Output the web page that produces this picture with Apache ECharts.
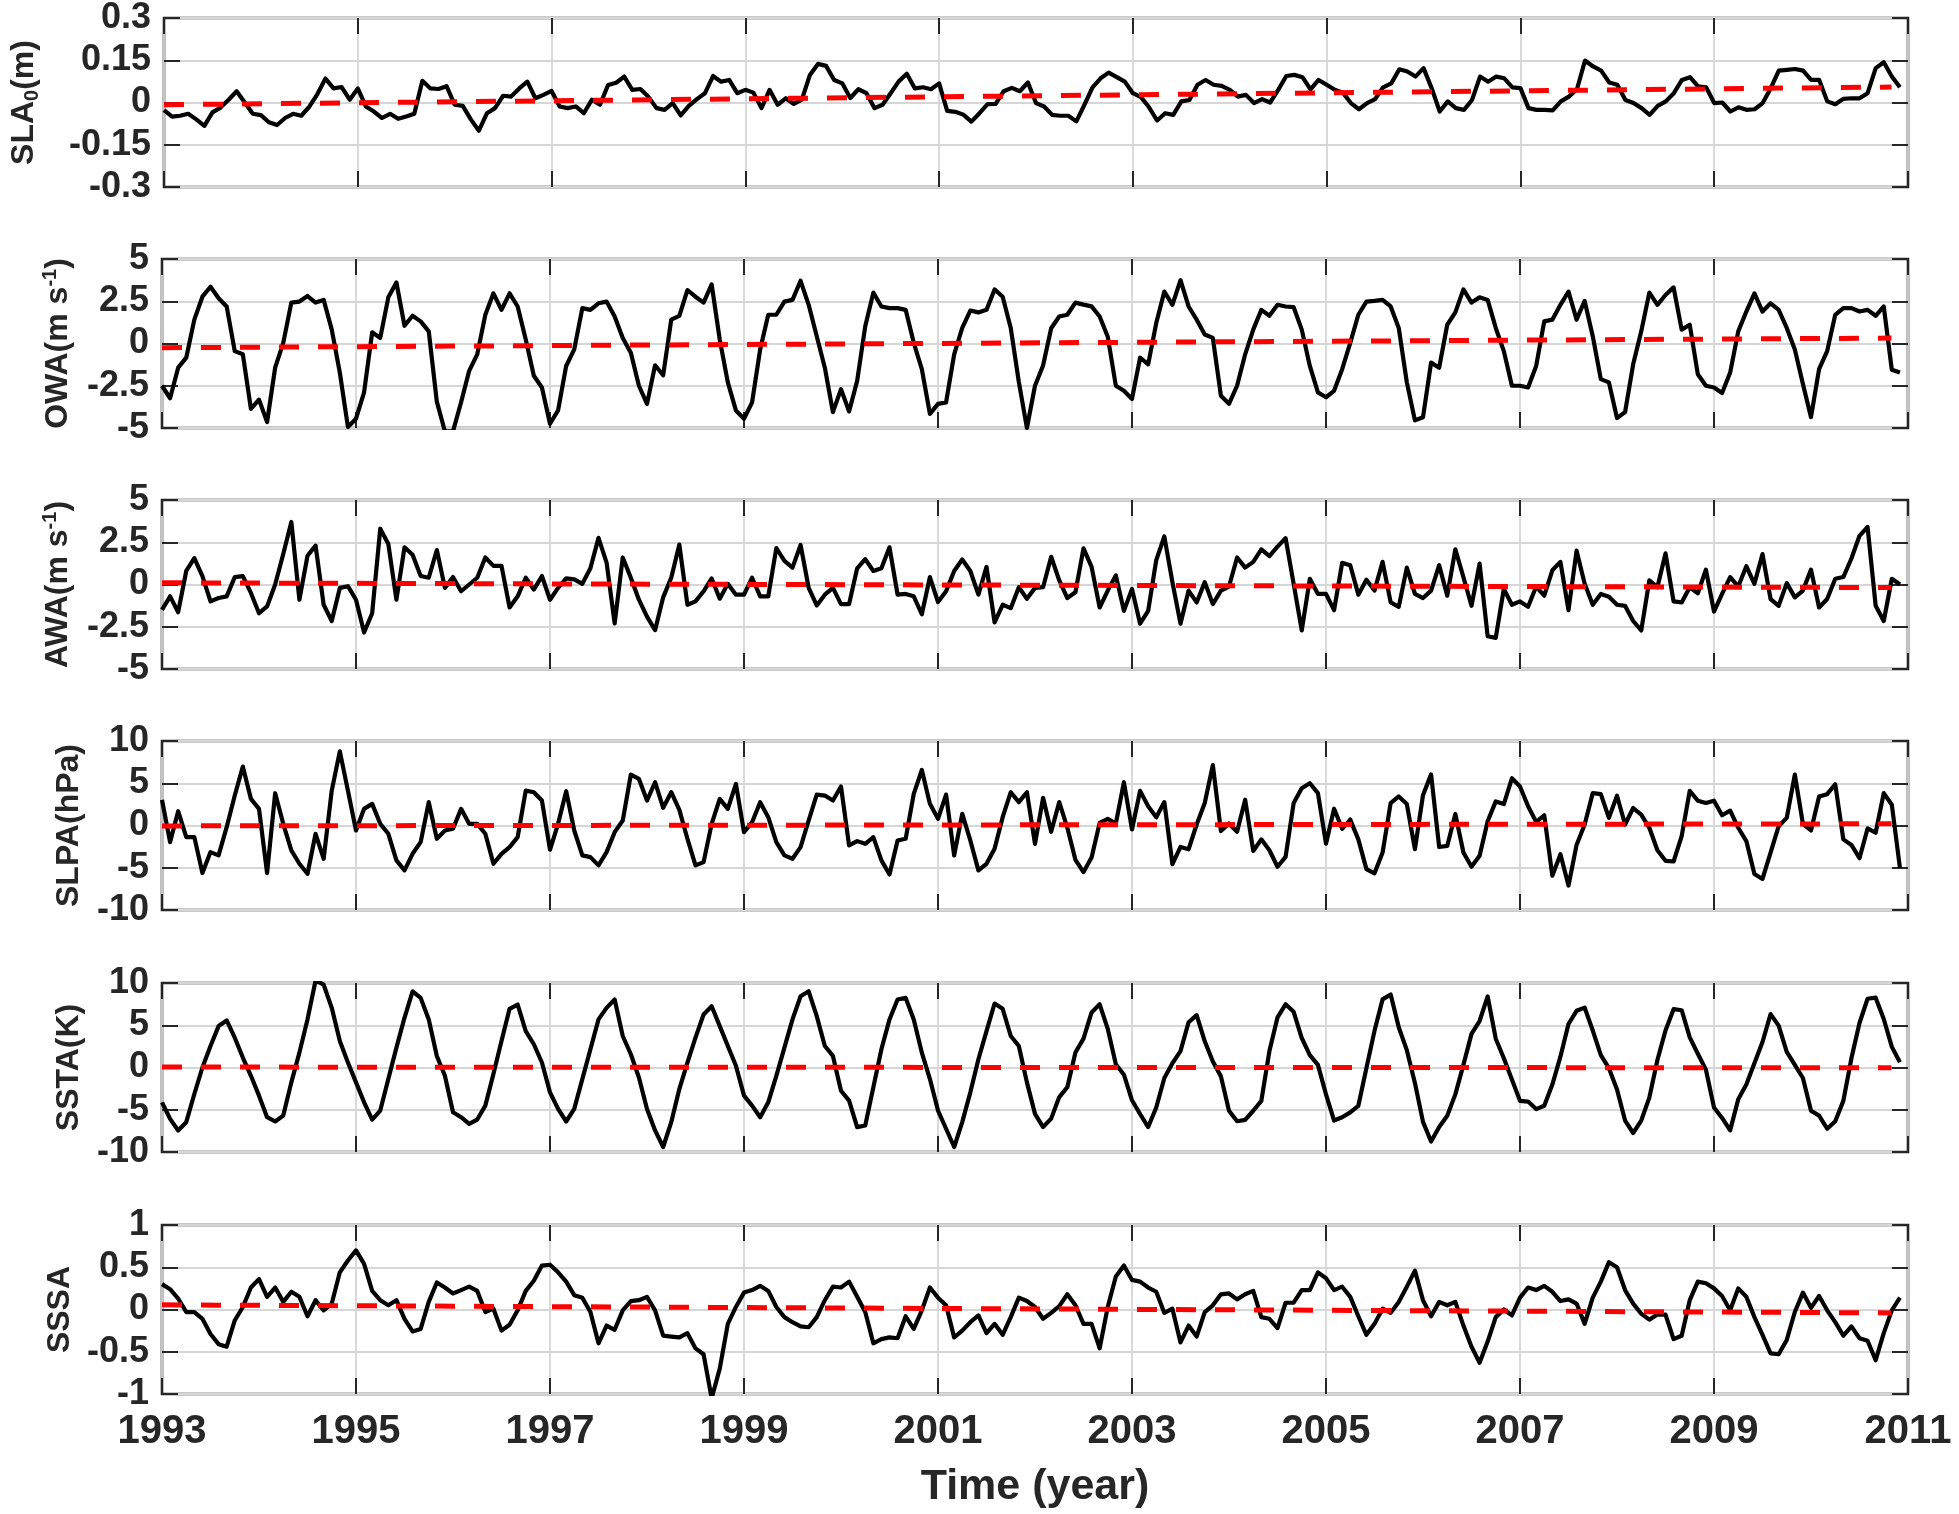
<!DOCTYPE html>
<html><head><meta charset="utf-8">
<script src="https://cdn.jsdelivr.net/npm/echarts@6/dist/echarts.min.js"></script>
<style>html,body{margin:0;padding:0;background:#fff}#chart{width:1959px;height:1514px}</style>
</head><body><div id="chart"></div>
<script>
// ---------------- DATA ----------------
const startYear = 1993;          // first month of the monthly series
const xTickLabels = ['1993','1995','1997','1999','2001','2003','2005','2007','2009','2011'];
const trendSpan = [1993, 2010.83]; // x extent of the dashed trend lines

const slaTicks  = ['-0.3','-0.15','0','0.15','0.3'];
const owaTicks  = ['-5','-2.5','0','2.5','5'];
const awaTicks  = ['-5','-2.5','0','2.5','5'];
const slpaTicks = ['-10','-5','0','5','10'];
const sstaTicks = ['-10','-5','0','5','10'];
const sssaTicks = ['-1','-0.5','0','0.5','1'];

const sla = [
-0.027,-0.05,-0.047,-0.04,-0.06,-0.083,-0.035,-0.018,0.01,0.04,0.0,-0.04,
-0.045,-0.07,-0.08,-0.055,-0.04,-0.047,-0.015,0.03,0.085,0.05,0.055,0.01,
0.05,-0.014,-0.032,-0.055,-0.04,-0.058,-0.05,-0.04,0.077,0.05,0.048,0.058,
-0.008,-0.012,-0.06,-0.10,-0.038,-0.02,0.024,0.021,0.05,0.074,0.015,0.027,
0.041,-0.014,-0.02,-0.014,-0.038,0.01,-0.008,0.062,0.07,0.092,0.045,0.048,
0.02,-0.02,-0.026,-0.002,-0.046,-0.012,0.012,0.033,0.094,0.074,0.08,0.033,
0.045,0.035,-0.02,0.045,-0.008,0.015,-0.005,0.01,0.098,0.137,0.13,0.08,
0.068,0.016,0.047,0.033,-0.02,-0.008,0.033,0.075,0.102,0.05,0.054,0.047,
0.068,-0.03,-0.033,-0.043,-0.068,-0.038,-0.006,-0.005,0.04,0.052,0.04,0.071,
-0.002,-0.014,-0.044,-0.047,-0.047,-0.067,-0.008,0.054,0.086,0.106,0.09,0.074,
0.033,0.019,-0.017,-0.064,-0.038,-0.044,0.004,0.009,0.063,0.08,0.063,0.059,
0.045,0.021,0.027,-0.002,0.012,0.0,0.045,0.094,0.098,0.09,0.047,0.08,
0.063,0.045,0.035,-0.002,-0.024,-0.002,0.012,0.054,0.068,0.118,0.11,0.092,
0.122,0.051,-0.032,0.004,-0.02,-0.026,0.009,0.092,0.074,0.092,0.086,0.054,
0.051,-0.02,-0.026,-0.026,-0.028,0.004,0.021,0.047,0.149,0.128,0.113,0.071,
0.063,0.009,-0.002,-0.02,-0.044,-0.012,0.004,0.033,0.08,0.09,0.057,0.054,
-0.002,0.0,-0.032,-0.017,-0.026,-0.024,-0.002,0.051,0.113,0.116,0.119,0.113,
0.08,0.08,0.004,-0.006,0.013,0.015,0.015,0.033,0.122,0.143,0.092,0.054];
const slaTrend = [-0.008, 0.055];

const owa = [
-2.5,-3.24,-1.43,-0.84,1.41,2.77,3.36,2.68,2.19,-0.45,-0.64,-3.87,
-3.32,-4.65,-1.43,0.04,2.42,2.48,2.81,2.42,2.58,0.82,-1.72,-4.94,
-4.45,-2.89,0.66,0.33,2.73,3.61,1.05,1.64,1.31,0.72,-3.44,-5.2,
-5.2,-3.48,-1.62,-0.64,1.7,2.97,1.99,2.97,2.19,0.23,-1.91,-2.6,
-4.75,-3.96,-1.33,-0.35,2.09,1.99,2.38,2.48,1.6,0.33,-0.55,-2.5,
-3.57,-1.29,-1.88,1.41,1.64,3.16,2.77,2.42,3.5,0.23,-2.3,-3.96,
-4.45,-3.48,-0.35,1.7,1.7,2.48,2.58,3.71,2.29,0.43,-1.43,-4.06,
-2.7,-4.02,-2.21,1.02,3.01,2.19,2.09,2.09,1.99,0.04,-1.52,-4.16,
-3.57,-3.48,-0.64,0.92,1.95,1.84,1.99,3.2,2.77,0.92,-2.27,-5.0,
-2.5,-1.3,0.9,1.6,1.7,2.42,2.3,2.2,1.6,0.4,-2.5,-2.8,
-3.28,-0.84,-1.23,1.21,3.07,2.29,3.75,2.19,1.41,0.53,0.33,-3.09,
-3.57,-2.5,-0.64,0.82,1.99,1.64,2.29,2.19,2.15,0.82,-1.33,-2.89,
-3.18,-2.8,-1.52,0.04,1.7,2.48,2.52,2.58,2.19,0.92,-2.3,-4.55,
-4.36,-1.13,-1.43,1.11,1.84,3.2,2.42,2.73,2.58,0.92,-0.45,-2.5,
-2.5,-2.6,-1.33,1.31,1.41,2.29,3.07,1.41,2.52,0.43,-2.11,-2.3,
-4.41,-4.06,-1.23,0.72,3.01,2.29,2.87,3.32,0.82,1.11,-1.82,-2.5,
-2.6,-2.93,-1.72,0.72,1.89,2.97,1.89,2.38,1.99,0.92,-0.35,-2.4,
-4.36,-1.52,-0.45,1.7,2.09,2.09,1.89,1.99,1.64,2.19,-1.56,-1.72];
const owaTrend = [-0.25, 0.32];

const awa = [
-1.5,-0.7,-1.64,0.8,1.56,0.5,-1.0,-0.8,-0.7,0.44,0.5,-0.5,
-1.7,-1.3,0.0,1.8,3.7,-0.9,1.7,2.3,-1.2,-2.16,-0.2,-0.1,
-0.9,-2.84,-1.7,3.3,2.4,-0.9,2.2,1.76,0.5,0.4,2.04,-0.2,
0.44,-0.4,0.0,0.4,1.6,1.1,1.1,-1.36,-0.7,0.4,-0.3,0.5,
-0.9,-0.2,0.36,0.3,0.04,0.96,2.76,1.3,-2.3,1.6,0.4,-0.9,
-1.9,-2.7,-0.76,0.4,2.36,-1.2,-1.0,-0.4,0.36,-0.84,0.04,-0.6,
-0.6,0.4,-0.7,-0.7,2.16,1.4,1.0,2.34,-0.2,-1.24,-0.6,-0.2,
-1.16,-1.16,0.96,1.5,0.8,0.96,2.2,-0.6,-0.56,-0.7,-1.76,0.44,
-1.04,-0.4,0.8,1.48,0.8,-0.6,1.04,-2.24,-1.2,-1.4,-0.16,-0.84,
-0.2,-0.16,1.64,0.24,-0.8,-0.46,2.14,1.04,-1.36,-0.36,0.54,-1.56,
-0.26,-2.32,-1.56,1.44,2.84,0.14,-2.32,-0.36,-1.06,0.14,-1.16,-0.36,
-0.12,1.6,1.0,1.34,2.08,1.68,2.24,2.74,0.04,-2.72,0.34,-0.56,
-0.56,-1.52,1.28,1.14,-0.6,0.28,-0.36,1.34,-1.06,-1.32,1.0,-0.56,
-0.8,-0.36,1.14,-0.66,2.08,0.44,-1.26,1.24,-3.06,-3.16,-0.26,-1.2,
-1.0,-1.32,-0.12,-0.66,0.84,1.34,-1.52,2.0,0.04,-1.2,-0.56,-0.72,
-1.2,-1.26,-2.16,-2.72,0.24,-0.16,1.84,-1.0,-1.06,-0.16,-0.52,0.88,
-1.6,-0.56,0.44,-0.12,1.08,0.04,1.8,-0.86,-1.26,0.08,-0.76,-0.36,
0.88,-1.36,-0.86,0.34,0.44,1.54,2.88,3.4,-1.26,-2.16,0.34,0.0];
const awaTrend = [0.1, -0.18];

const slpa = [
3.03,-1.97,1.69,-1.38,-1.38,-5.63,-3.15,-3.54,-0.2,3.54,6.97,3.15,
1.97,-5.63,3.82,0.2,-2.95,-4.53,-5.71,-0.98,-3.94,4.13,8.78,4.13,
-0.59,1.97,2.56,0.2,-0.98,-4.13,-5.31,-3.35,-1.97,2.76,-1.57,-0.59,
-0.39,1.97,0.2,0.2,-0.98,-4.53,-3.35,-2.56,-1.38,4.13,3.94,2.95,
-2.87,0.2,4.06,-0.59,-3.54,-3.74,-4.72,-3.15,-0.79,0.59,6.02,5.51,
2.95,5.12,2.09,3.94,1.85,-1.57,-4.72,-4.33,0.2,3.15,1.97,4.92,
-0.79,0.39,2.76,0.98,-1.97,-3.54,-3.94,-2.56,0.59,3.66,3.54,2.95,
4.61,-2.36,-1.85,-2.17,-1.38,-4.13,-5.79,-1.77,-1.57,3.74,6.57,2.56,
0.79,3.66,-3.54,1.38,-1.77,-5.31,-4.53,-2.76,0.98,3.94,2.76,3.94,
-2.17,3.28,-0.74,2.77,-0.27,-4.06,-5.51,-3.79,0.31,0.78,0.23,5.12,
-0.47,4.1,2.27,0.98,2.77,-4.57,-2.54,-2.81,0.12,2.66,7.15,-0.66,
0.23,-0.74,3.05,-3.01,-1.64,-2.93,-4.88,-3.71,2.66,4.41,5.0,3.83,
-2.15,1.99,-0.39,0.7,-1.64,-5.16,-5.66,-3.2,2.66,3.44,2.54,-2.81,
3.59,6.05,-2.54,-2.42,1.37,-3.2,-4.88,-3.59,0.51,2.85,2.54,5.59,
4.61,2.27,0.43,1.21,-5.94,-3.4,-7.11,-2.3,0.12,3.83,3.71,0.9,
3.52,0.12,2.07,1.29,-0.27,-2.93,-4.18,-4.26,-1.25,4.1,2.93,2.66,
2.93,1.21,1.76,-0.27,-1.84,-5.74,-6.33,-3.2,-0.08,0.9,6.02,0.2,
-0.59,3.44,3.71,4.88,-1.64,-2.3,-3.87,-0.35,-0.86,3.83,2.46,-5.0];
const slpaTrend = [-0.05, 0.2];

const ssta = [
-4.12,-6.08,-7.45,-6.47,-3.14,0,2.55,4.9,5.57,3.53,1.18,-0.98,
-3.33,-5.88,-6.39,-5.69,-1.76,1.76,5.69,10.3,9.8,7.06,3.14,0.59,
-1.76,-4.12,-6.16,-5.1,-1.37,2.35,5.88,9.02,8.24,5.69,1.37,-0.98,
-5.29,-5.88,-6.67,-6.16,-4.51,-0.78,3.14,6.94,7.45,4.31,2.75,0.59,
-2.94,-4.9,-6.39,-4.9,-1.37,2.16,5.69,7.06,8.04,3.73,1.57,-1.18,
-4.9,-7.45,-9.41,-6.47,-2.55,0.59,3.53,6.27,7.25,4.9,2.55,0.2,
-3.33,-4.51,-5.88,-4.12,-0.98,2.35,5.69,8.43,9.02,6.08,2.55,1.37,
-2.75,-3.92,-7.06,-6.86,-2.35,2.16,5.69,8.04,8.24,5.69,1.76,-1.37,
-5.1,-7.25,-9.41,-6.47,-2.94,0.98,4.31,7.57,6.94,3.73,2.55,-1.76,
-5.49,-7.05,-6.05,-3.5,-2.33,1.78,3.41,6.51,7.48,4.57,0.39,-0.85,
-3.88,-5.5,-7.05,-4.73,-1.24,0.5,1.94,5.35,6.2,3.1,0.7,-1.05,
-5.12,-6.36,-6.2,-5.12,-3.95,1.94,5.93,7.48,6.59,3.49,1.47,0.31,
-3.18,-6.28,-5.89,-5.31,-4.53,-0.08,4.34,8.06,8.64,4.77,2.05,-1.82,
-6.43,-8.76,-7.05,-5.7,-3.18,0.31,3.98,5.5,8.41,3.41,1.09,-1.43,
-3.95,-4.03,-4.92,-4.53,-2.02,1.28,5.15,6.71,7.09,4.38,1.47,-0.08,
-2.6,-6.28,-7.75,-6.28,-3.57,0.89,4.38,6.9,6.78,3.57,1.63,-0.27,
-4.73,-5.97,-7.44,-3.76,-2.02,0.5,3.02,6.32,4.96,1.86,0.31,-1.24,
-5.12,-5.7,-7.25,-6.36,-3.95,1.09,5.27,8.14,8.26,5.74,2.44,0.62];
const sstaTrend = [0.05, -0.03];

const sssa = [
0.30,0.24,0.13,-0.03,-0.03,-0.11,-0.29,-0.41,-0.44,-0.13,0.03,0.26,
0.36,0.15,0.26,0.09,0.21,0.15,-0.08,0.11,-0.01,0.07,0.44,0.58,
0.70,0.54,0.22,0.11,0.05,0.11,-0.11,-0.26,-0.23,0.09,0.32,0.26,
0.19,0.23,0.27,0.22,-0.03,0.01,-0.25,-0.18,-0.01,0.22,0.34,0.52,
0.53,0.44,0.33,0.17,0.14,-0.03,-0.40,-0.19,-0.24,-0.01,0.10,0.11,
0.15,-0.01,-0.31,-0.32,-0.33,-0.28,-0.46,-0.53,-1.05,-0.70,-0.17,0.03,
0.20,0.23,0.28,0.22,0.03,-0.09,-0.15,-0.20,-0.21,-0.09,0.11,0.27,
0.26,0.33,0.15,-0.03,-0.40,-0.35,-0.33,-0.34,-0.08,-0.23,-0.01,0.26,
0.14,0.05,-0.33,-0.25,-0.15,-0.07,-0.28,-0.17,-0.30,-0.09,0.14,0.10,
0.03,-0.11,-0.04,0.04,0.18,0.05,-0.17,-0.17,-0.46,0.03,0.39,0.52,
0.35,0.33,0.26,0.21,-0.04,0.01,-0.39,-0.19,-0.32,-0.03,0.05,0.18,
0.19,0.12,0.18,0.22,-0.09,-0.11,-0.22,0.08,0.08,0.23,0.23,0.44,
0.37,0.23,0.27,0.15,-0.08,-0.30,-0.17,0.01,-0.04,0.09,0.27,0.46,
0.11,-0.08,0.09,0.05,0.09,-0.19,-0.44,-0.63,-0.38,-0.09,0.0,-0.07,
0.14,0.26,0.23,0.28,0.21,0.10,0.12,0.07,-0.17,0.14,0.33,0.56,
0.50,0.23,0.07,-0.05,-0.12,-0.06,-0.06,-0.35,-0.31,0.11,0.33,0.31,
0.25,0.16,-0.01,0.25,0.15,-0.09,-0.30,-0.52,-0.53,-0.36,-0.03,0.20,
0.02,0.16,-0.01,-0.15,-0.31,-0.20,-0.34,-0.37,-0.60,-0.28,-0.01,0.14];
const sssaTrend = [0.055, -0.04];

// ---------------- LAYOUT / STYLE ----------------
const TXT = '#262626';
const FONT = '"Liberation Sans", Arial, sans-serif';
const gridTops = [18, 259, 500, 741, 983, 1225];
const gridH = 169;
const gridLeft = 162, gridRight = 51;

const nameRich = {
  b:   {fontSize: 32, fontWeight: 'bold', color: TXT, fontFamily: FONT, lineHeight: 36, verticalAlign: 'middle'},
  sub: {fontSize: 20, fontWeight: 'bold', color: TXT, fontFamily: FONT, lineHeight: 14, verticalAlign: 'bottom'},
  sup: {fontSize: 20, fontWeight: 'bold', color: TXT, fontFamily: FONT, lineHeight: 20, verticalAlign: 'top'}
};

const panels = [
  {name: '{b|SLA}{sub|0}{b|(m)}',      data: sla,  trend: slaTrend,  min: -0.3, max: 0.3, step: 0.15, ticks: slaTicks,  gap: 122},
  {name: '{b|OWA(m s}{sup|-1}{b|)}',   data: owa,  trend: owaTrend,  min: -5,   max: 5,   step: 2.5,  ticks: owaTicks,  gap: 86},
  {name: '{b|AWA(m s}{sup|-1}{b|)}',   data: awa,  trend: awaTrend,  min: -5,   max: 5,   step: 2.5,  ticks: awaTicks,  gap: 86},
  {name: '{b|SLPA(hPa)}',              data: slpa, trend: slpaTrend, min: -10,  max: 10,  step: 5,    ticks: slpaTicks, gap: 75},
  {name: '{b|SSTA(K)}',                data: ssta, trend: sstaTrend, min: -10,  max: 10,  step: 5,    ticks: sstaTicks, gap: 75},
  {name: '{b|SSSA}',                   data: sssa, trend: sssaTrend, min: -1,   max: 1,   step: 0.5,  ticks: sssaTicks, gap: 75}
];

const grid = [], xAxis = [], yAxis = [], series = [];
const tickStyle = {show: true, inside: true, length: 16, lineStyle: {color: TXT, width: 2}};
const gridLine = {show: true, lineStyle: {color: '#d6d6d6', width: 1.8}};

panels.forEach((p, k) => {
  const last = k === panels.length - 1;
  grid.push({left: gridLeft, right: gridRight, top: gridTops[k], height: gridH,
             show: true, borderColor: TXT, borderWidth: 2.6, backgroundColor: '#fff'});
  // bottom x axis
  xAxis.push({type: 'value', gridIndex: k, min: 1993, max: 2011, interval: 2, position: 'bottom',
    axisLine: {show: false, onZero: false}, axisTick: tickStyle, splitLine: gridLine,
    axisLabel: {show: last, margin: 18, fontSize: 40, fontWeight: 'bold', color: TXT, fontFamily: FONT,
                formatter: (v, i) => xTickLabels[i]},
    name: last ? 'Time (year)' : '', nameLocation: 'middle', nameGap: 72,
    nameTextStyle: {fontSize: 43, fontWeight: 'bold', color: TXT, fontFamily: FONT}});
  // top x axis (ticks only)
  xAxis.push({type: 'value', gridIndex: k, min: 1993, max: 2011, interval: 2, position: 'top',
    axisLine: {show: false, onZero: false}, axisTick: tickStyle, splitLine: {show: false}, axisLabel: {show: false}});
  // left y axis
  yAxis.push({type: 'value', gridIndex: k, min: p.min, max: p.max, interval: p.step, position: 'left',
    axisLine: {show: false, onZero: false}, axisTick: tickStyle, splitLine: gridLine,
    axisLabel: {margin: 13, fontSize: 36, fontWeight: 'bold', color: TXT, fontFamily: FONT,
                formatter: (v, i) => p.ticks[i]},
    name: p.name, nameLocation: 'middle', nameRotate: 90, nameGap: p.gap,
    nameTextStyle: {rich: nameRich}});
  // right y axis (ticks only)
  yAxis.push({type: 'value', gridIndex: k, min: p.min, max: p.max, interval: p.step, position: 'right',
    axisLine: {show: false, onZero: false}, axisTick: tickStyle, splitLine: {show: false}, axisLabel: {show: false}});

  const pts = p.data.map((v, i) => [startYear + i / 12, v]);
  series.push({type: 'line', xAxisIndex: 2 * k, yAxisIndex: 2 * k, data: pts, showSymbol: false, symbol: 'none',
    clip: true, lineStyle: {color: '#000', width: 4.2, join: 'round'}, z: 3});
  series.push({type: 'line', xAxisIndex: 2 * k, yAxisIndex: 2 * k,
    data: [[trendSpan[0], p.trend[0]], [trendSpan[1], p.trend[1]]], showSymbol: false, symbol: 'none',
    lineStyle: {color: '#ff0000', width: 5, type: [20, 19], cap: 'butt'}, z: 4});
});

const chart = echarts.init(document.getElementById('chart'), null, {renderer: 'canvas'});
chart.setOption({animation: false, backgroundColor: '#fff', grid, xAxis, yAxis, series});
</script>
</body></html>
